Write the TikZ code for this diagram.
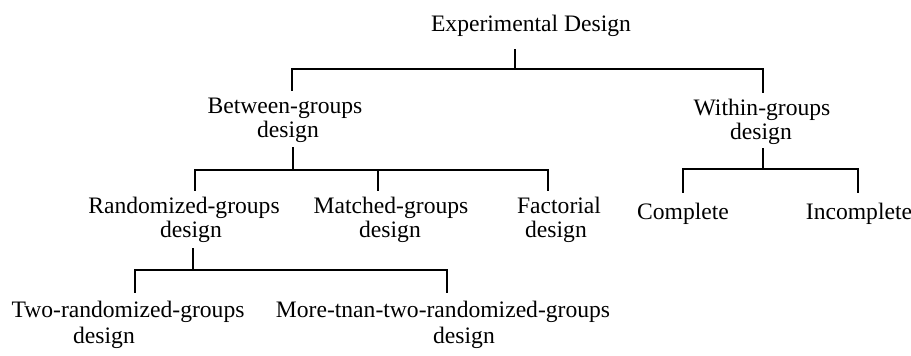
\documentclass[tikz,border=0pt]{standalone}
\usepackage{fontspec}
\setmainfont{Liberation Serif}
\begin{document}
\begin{tikzpicture}[x=1pt,y=-1pt,
  lbl/.style={anchor=base, inner sep=0pt, font=\fontsize{23.6}{26}\selectfont},
  link/.style={line width=1.8pt, line cap=rect, line join=miter}]
\useasboundingbox[fill=white] (0,0) rectangle (911,356);

% labels
\node[lbl] (root)  at (531,31)  {Experimental Design};
\node[lbl] (btw)   at (285,113) {Between-groups};
\node[lbl] (btw2)  at (288,137) {design};
\node[lbl] (wth)   at (762,115) {Within-groups};
\node[lbl] (wth2)  at (761,139) {design};
\node[lbl] (rnd)   at (184,213) {Randomized-groups};
\node[lbl] (rnd2)  at (191,237) {design};
\node[lbl] (mat)   at (391,213) {Matched-groups};
\node[lbl] (mat2)  at (390,237) {design};
\node[lbl] (fac)   at (559,213) {Factorial};
\node[lbl] (fac2)  at (556,237) {design};
\node[lbl] (cmp)   at (683,219) {Complete};
\node[lbl] (inc)   at (859,219) {Incomplete};
\node[lbl] (two)   at (128,317) {Two-randomized-groups};
\node[lbl] (two2)  at (104,343) {design};
\node[lbl] (more)  at (443,317) {More-tnan-two-randomized-groups};
\node[lbl] (more2) at (464,343) {design};

% connector end points
\coordinate (root-t) at (515,50);  \coordinate (root-b) at (515,69);
\coordinate (btw-in) at (292,90);  \coordinate (wth-in) at (763,92);
\coordinate (btw-t) at (293,148);  \coordinate (btw-b) at (293,170);
\coordinate (rnd-in) at (195,190); \coordinate (mat-in) at (378,190);
\coordinate (fac-in) at (548,190);
\coordinate (wth-t) at (763,149);  \coordinate (wth-b) at (763,169);
\coordinate (cmp-in) at (683,192); \coordinate (inc-in) at (858,192);
\coordinate (rnd-t) at (193,249);  \coordinate (rnd-b) at (193,270);
\coordinate (two-in) at (135,292); \coordinate (more-in) at (447,292);

% Experimental Design
\draw[link] (root-t) -- (root-b);
\draw[link] (btw-in) -- (btw-in |- root-b) -- (wth-in |- root-b) -- (wth-in);

% Between-groups design
\draw[link] (btw-t) -- (btw-b);
\draw[link] (rnd-in) -- (rnd-in |- btw-b) -- (fac-in |- btw-b) -- (fac-in);
\draw[link] (mat-in) -- (mat-in |- btw-b);

% Within-groups design
\draw[link] (wth-t) -- (wth-b);
\draw[link] (cmp-in) -- (cmp-in |- wth-b) -- (inc-in |- wth-b) -- (inc-in);

% Randomized-groups design
\draw[link] (rnd-t) -- (rnd-b);
\draw[link] (two-in) -- (two-in |- rnd-b) -- (more-in |- rnd-b) -- (more-in);
\end{tikzpicture}
\end{document}
